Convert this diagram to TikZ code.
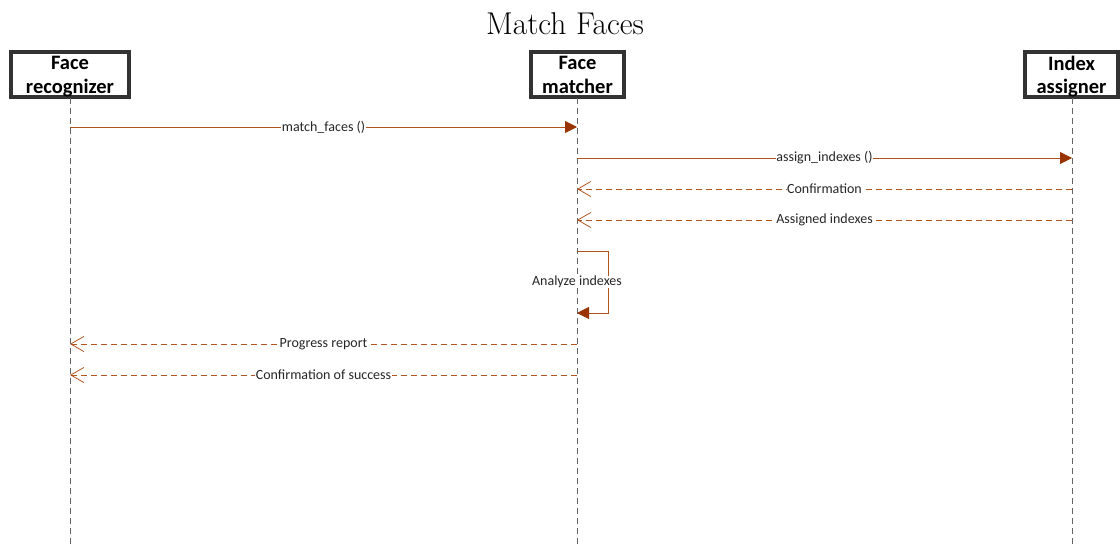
\documentclass[tikz,border=0pt]{standalone}
\usepackage{fontspec}
\newfontfamily\lblfont{Carlito}
\usetikzlibrary{arrows.meta}
\definecolor{msgline}{RGB}{176,84,30}
\definecolor{msghead}{RGB}{153,51,0}
\definecolor{boxedge}{RGB}{51,51,51}
\definecolor{lifegray}{RGB}{100,100,100}
\tikzset{
  actor/.style={draw=boxedge, line width=3.4pt, fill=white, inner sep=0pt},
  actortext/.style={inner sep=0pt, align=center,
    font=\lblfont\bfseries\fontsize{20.5}{23.5}\selectfont},
  lifeline/.style={draw=lifegray, line width=1pt, dash pattern=on 6pt off 4pt},
  callmsg/.style={draw=msgline, line width=0.9pt,
    -{Triangle[length=12pt, width=12pt, fill=msghead, color=msghead]}},
  replymsg/.style={draw=msgline, line width=0.9pt, dash pattern=on 6pt off 4pt,
    -{Straight Barb[length=13pt, width=15pt, line width=0.8pt, color=msgline]}},
  msglabel/.style={fill=white, inner sep=0.5pt, font=\lblfont\fontsize{14}{16}\selectfont, text=black!85}
}
\begin{document}
\begin{tikzpicture}[x=1pt, y=-1pt]
\useasboundingbox (0,0) rectangle (1120,547);

% title
\node[font=\fontsize{31.5}{38}\selectfont] (title) at (565,24) {Match Faces};

% participants
\node[actor, minimum width=118pt, minimum height=45pt] (rec) at (70,74.5) {};
\node[actor, minimum width=93pt, minimum height=45pt] (mat) at (577.5,74.5) {};
\node[actor, minimum width=93pt, minimum height=45pt] (ass) at (1071.5,74.5) {};
\node[actortext] (recT) at ([yshift=-2pt]rec.center) {Face\\recognizer};
\node[actortext] (matT) at ([yshift=-2pt]mat.center) {Face\\matcher\vphantom{g}};
\node[actortext] (assT) at ([yshift=-2pt]ass.center) {Index\vphantom{F}\\assigner};

% lifeline ends
\coordinate (recEnd) at (70,547);
\coordinate (matEnd) at (577,547);
\coordinate (assEnd) at (1072,547);
\draw[lifeline] (70,98) -- (recEnd);
\draw[lifeline] (577,98) -- (matEnd);
\draw[lifeline] (1072,98) -- (assEnd);

% anchor points on the lifelines
\foreach \y/\n in {127/a, 344/f, 375/g} \coordinate (rec\n) at (70,\y);
\foreach \y/\n in {127/a, 158/b, 189/c, 220/d, 251/e1, 313/e2, 344/f, 375/g} \coordinate (mat\n) at (577,\y);
\foreach \y/\n in {158/b, 189/c, 220/d} \coordinate (ass\n) at (1072,\y);
\coordinate (loopA) at (608,251);
\coordinate (loopB) at (608,313);

% messages
\draw[callmsg] (reca) -- node[msglabel] {match\_faces ()} (mata);
\draw[callmsg] (matb) -- node[msglabel] {assign\_indexes ()} (assb);
\draw[replymsg] (assc) -- node[msglabel] {Confirmation} (matc);
\draw[replymsg] (assd) -- node[msglabel] {Assigned indexes} (matd);
\draw[callmsg] (mate1) -- (loopA) -- (loopB) -- (mate2);
\node[msglabel] (loopLbl) at (577,282) {Analyze indexes};
\draw[replymsg] (matf) -- node[msglabel] {Progress report} (recf);
\draw[replymsg] (matg) -- node[msglabel] {Confirmation of success} (recg);
\end{tikzpicture}
\end{document}
